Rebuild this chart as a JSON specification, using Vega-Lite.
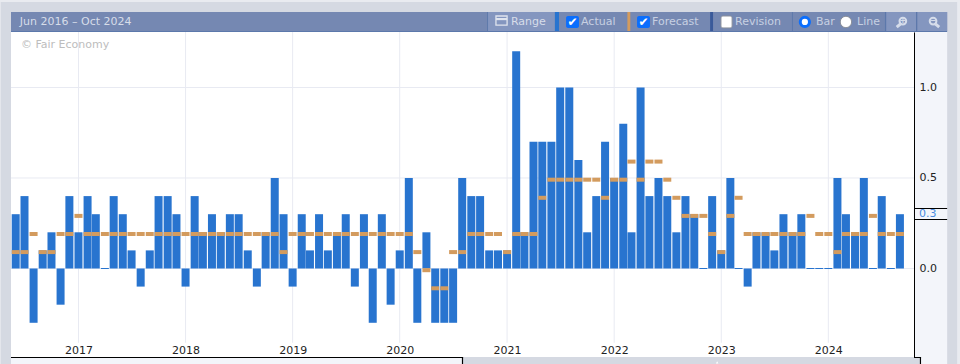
{"$schema":"https://vega.github.io/schema/vega-lite/v6.json","width":903,"height":325,"autosize":"none","padding":{"left":11,"top":32,"right":46,"bottom":7},"background":"#d5d9e2","view":{"fill":"#ffffff","stroke":null},"config":{"font":"DejaVu Sans"},
"datasets":{"series":[
{"date":"2016-06-01","actual":0.3,"forecast":0.1},{"date":"2016-07-01","actual":0.4,"forecast":0.1},{"date":"2016-08-01","actual":-0.3,"forecast":0.2},{"date":"2016-09-01","actual":0.1,"forecast":0.1},{"date":"2016-10-01","actual":0.2,"forecast":0.1},{"date":"2016-11-01","actual":-0.2,"forecast":0.2},{"date":"2016-12-01","actual":0.4,"forecast":0.2},
{"date":"2017-01-01","actual":0.2,"forecast":0.3},{"date":"2017-02-01","actual":0.4,"forecast":0.2},{"date":"2017-03-01","actual":0.3,"forecast":0.2},{"date":"2017-04-01","actual":0.0,"forecast":0.2},{"date":"2017-05-01","actual":0.4,"forecast":0.2},{"date":"2017-06-01","actual":0.3,"forecast":0.2},{"date":"2017-07-01","actual":0.1,"forecast":0.2},{"date":"2017-08-01","actual":-0.1,"forecast":0.2},{"date":"2017-09-01","actual":0.1,"forecast":0.2},{"date":"2017-10-01","actual":0.4,"forecast":0.2},{"date":"2017-11-01","actual":0.4,"forecast":0.2},{"date":"2017-12-01","actual":0.3,"forecast":0.2},
{"date":"2018-01-01","actual":-0.1,"forecast":0.2},{"date":"2018-02-01","actual":0.4,"forecast":0.2},{"date":"2018-03-01","actual":0.2,"forecast":0.2},{"date":"2018-04-01","actual":0.3,"forecast":0.2},{"date":"2018-05-01","actual":0.2,"forecast":0.2},{"date":"2018-06-01","actual":0.3,"forecast":0.2},{"date":"2018-07-01","actual":0.3,"forecast":0.2},{"date":"2018-08-01","actual":0.1,"forecast":0.2},{"date":"2018-09-01","actual":-0.1,"forecast":0.2},{"date":"2018-10-01","actual":0.2,"forecast":0.2},{"date":"2018-11-01","actual":0.5,"forecast":0.2},{"date":"2018-12-01","actual":0.3,"forecast":0.1},
{"date":"2019-01-01","actual":-0.1,"forecast":0.2},{"date":"2019-02-01","actual":0.3,"forecast":0.2},{"date":"2019-03-01","actual":0.1,"forecast":0.2},{"date":"2019-04-01","actual":0.3,"forecast":0.2},{"date":"2019-05-01","actual":0.1,"forecast":0.2},{"date":"2019-06-01","actual":0.2,"forecast":0.2},{"date":"2019-07-01","actual":0.3,"forecast":0.2},{"date":"2019-08-01","actual":-0.1,"forecast":0.2},{"date":"2019-09-01","actual":0.3,"forecast":0.2},{"date":"2019-10-01","actual":-0.3,"forecast":0.2},{"date":"2019-11-01","actual":0.3,"forecast":0.2},{"date":"2019-12-01","actual":-0.2,"forecast":0.2},
{"date":"2020-01-01","actual":0.1,"forecast":0.2},{"date":"2020-02-01","actual":0.5,"forecast":0.2},{"date":"2020-03-01","actual":-0.3,"forecast":0.1},{"date":"2020-04-01","actual":0.2,"forecast":0.0},{"date":"2020-05-01","actual":-0.3,"forecast":-0.1},{"date":"2020-06-01","actual":-0.3,"forecast":-0.1},{"date":"2020-07-01","actual":-0.3,"forecast":0.1},{"date":"2020-08-01","actual":0.5,"forecast":0.1},{"date":"2020-09-01","actual":0.4,"forecast":0.2},{"date":"2020-10-01","actual":0.4,"forecast":0.2},{"date":"2020-11-01","actual":0.1,"forecast":0.2},{"date":"2020-12-01","actual":0.1,"forecast":0.2},
{"date":"2021-01-01","actual":0.1,"forecast":0.1},{"date":"2021-02-01","actual":1.2,"forecast":0.2},{"date":"2021-03-01","actual":0.2,"forecast":0.2},{"date":"2021-04-01","actual":0.7,"forecast":0.2},{"date":"2021-05-01","actual":0.7,"forecast":0.4},{"date":"2021-06-01","actual":0.7,"forecast":0.5},{"date":"2021-07-01","actual":1.0,"forecast":0.5},{"date":"2021-08-01","actual":1.0,"forecast":0.5},{"date":"2021-09-01","actual":0.6,"forecast":0.5},{"date":"2021-10-01","actual":0.2,"forecast":0.5},{"date":"2021-11-01","actual":0.4,"forecast":0.5},{"date":"2021-12-01","actual":0.7,"forecast":0.4},
{"date":"2022-01-01","actual":0.5,"forecast":0.5},{"date":"2022-02-01","actual":0.8,"forecast":0.5},{"date":"2022-03-01","actual":0.2,"forecast":0.6},{"date":"2022-04-01","actual":1.0,"forecast":0.5},{"date":"2022-05-01","actual":0.4,"forecast":0.6},{"date":"2022-06-01","actual":0.5,"forecast":0.6},{"date":"2022-07-01","actual":0.4,"forecast":0.5},{"date":"2022-08-01","actual":0.2,"forecast":0.4},{"date":"2022-09-01","actual":0.4,"forecast":0.3},{"date":"2022-10-01","actual":0.3,"forecast":0.3},{"date":"2022-11-01","actual":0.0,"forecast":0.3},{"date":"2022-12-01","actual":0.4,"forecast":0.2},
{"date":"2023-01-01","actual":0.1,"forecast":0.1},{"date":"2023-02-01","actual":0.5,"forecast":0.3},{"date":"2023-03-01","actual":0.0,"forecast":0.4},{"date":"2023-04-01","actual":-0.1,"forecast":0.2},{"date":"2023-05-01","actual":0.2,"forecast":0.2},{"date":"2023-06-01","actual":0.2,"forecast":0.2},{"date":"2023-07-01","actual":0.1,"forecast":0.2},{"date":"2023-08-01","actual":0.3,"forecast":0.2},{"date":"2023-09-01","actual":0.2,"forecast":0.2},{"date":"2023-10-01","actual":0.3,"forecast":0.2},{"date":"2023-11-01","actual":0.0,"forecast":0.3},{"date":"2023-12-01","actual":0.0,"forecast":0.2},
{"date":"2024-01-01","actual":0.0,"forecast":0.2},{"date":"2024-02-01","actual":0.5,"forecast":0.1},{"date":"2024-03-01","actual":0.3,"forecast":0.2},{"date":"2024-04-01","actual":0.2,"forecast":0.2},{"date":"2024-05-01","actual":0.5,"forecast":0.2},{"date":"2024-06-01","actual":0.0,"forecast":0.3},{"date":"2024-07-01","actual":0.4,"forecast":0.2},{"date":"2024-08-01","actual":0.0,"forecast":0.2},{"date":"2024-09-01","actual":0.3,"forecast":0.2}
]},
"layer":[
{"data":{"values":[{"year":"2017-01-01"},{"year":"2018-01-01"},{"year":"2019-01-01"},{"year":"2020-01-01"},{"year":"2021-01-01"},{"year":"2022-01-01"},{"year":"2023-01-01"},{"year":"2024-01-01"}]},"mark":{"type":"rule","color":"#e8eaf2","strokeWidth":1},"encoding":{"x":{"field":"year","type":"temporal"}}},
{"data":{"values":[{"level":0},{"level":0.5},{"level":1}]},"mark":{"type":"rule","color":"#e8eaf2","strokeWidth":1},"encoding":{"y":{"field":"level","type":"quantitative"}}},
{"data":{"values":[{"from":"2016-05-16","to":"2024-10-19","low":-0.489,"high":-0.41}]},"mark":{"type":"rect","color":"#ffffff"},"encoding":{"x":{"field":"from","type":"temporal"},"x2":{"field":"to"},"y":{"field":"low","type":"quantitative"},"y2":{"field":"high"}}},
{"data":{"name":"series"},"mark":{"type":"bar","color":"#2874cf","size":8},"encoding":{"x":{"field":"date","type":"temporal","scale":{"type":"utc","domain":["2016-05-16","2024-10-19"],"padding":0},"axis":{"title":null,"format":"%Y","tickCount":"year","grid":false,"domain":false,"ticks":false,"labelColor":"#222222","labelFontSize":11,"labelPadding":-7,"labelBaseline":"middle","labelFlush":false,"labelOverlap":false,"zindex":1}},"y":{"field":"actual","type":"quantitative","scale":{"domain":[-0.489,1.3066],"nice":false,"zero":false},"axis":{"title":null,"orient":"right","values":[0,0.5,1],"format":".1f","grid":false,"domain":true,"domainColor":"#000000","domainWidth":1,"ticks":false,"labelColor":"#222222","labelFontSize":11,"labelPadding":5,"zindex":1}}}},
{"data":{"name":"series"},"transform":[{"filter":"datum.actual === 0"}],"mark":{"type":"tick","orient":"horizontal","color":"#2874cf","size":8,"thickness":1,"opacity":1},"encoding":{"x":{"field":"date","type":"temporal"},"y":{"field":"actual","type":"quantitative"}}},
{"data":{"name":"series"},"mark":{"type":"tick","orient":"horizontal","color":"#d39b5e","size":8,"thickness":4,"opacity":1,"yOffset":1.7},"encoding":{"x":{"field":"date","type":"temporal"},"y":{"field":"forecast","type":"quantitative"}}},
{"data":{"values":[{"from":"2016-05-16","to":"2025-02-09","low":1.312,"high":1.417}]},"mark":{"type":"rect","color":"#7588b2"},"encoding":{"x":{"field":"from","type":"temporal"},"x2":{"field":"to"},"y":{"field":"low","type":"quantitative"},"y2":{"field":"high"}}},
{"data":{"values":[{"from":"2020-10-28","to":"2021-06-13","low":1.312,"high":1.417},{"from":"2024-07-16","to":"2024-10-26","low":1.312,"high":1.417},{"from":"2024-10-30","to":"2025-02-09","low":1.312,"high":1.417}]},"mark":{"type":"rect","color":"#8496bf"},"encoding":{"x":{"field":"from","type":"temporal"},"x2":{"field":"to"},"y":{"field":"low","type":"quantitative"},"y2":{"field":"high"}}},
{"data":{"values":[{"from":"2016-05-16","to":"2025-02-09","low":1.3066,"high":1.312},{"from":"2020-10-25","to":"2020-10-28","low":1.312,"high":1.417},{"from":"2023-08-30","to":"2023-09-02","low":1.312,"high":1.417},{"from":"2024-07-12","to":"2024-07-16","low":1.312,"high":1.417},{"from":"2024-10-26","to":"2024-10-30","low":1.312,"high":1.417}]},"mark":{"type":"rect","color":"#5c78ab"},"encoding":{"x":{"field":"from","type":"temporal"},"x2":{"field":"to"},"y":{"field":"low","type":"quantitative"},"y2":{"field":"high"}}},
{"data":{"values":[{"from":"2021-06-13","to":"2021-06-27","low":1.312,"high":1.417}]},"mark":{"type":"rect","color":"#2874cf"},"encoding":{"x":{"field":"from","type":"temporal"},"x2":{"field":"to"},"y":{"field":"low","type":"quantitative"},"y2":{"field":"high"}}},
{"data":{"values":[{"from":"2022-02-15","to":"2022-02-25","low":1.312,"high":1.417}]},"mark":{"type":"rect","color":"#d39b5e"},"encoding":{"x":{"field":"from","type":"temporal"},"x2":{"field":"to"},"y":{"field":"low","type":"quantitative"},"y2":{"field":"high"}}},
{"data":{"values":[{"from":"2022-11-24","to":"2022-12-04","low":1.312,"high":1.417}]},"mark":{"type":"rect","color":"#3a5a9a"},"encoding":{"x":{"field":"from","type":"temporal"},"x2":{"field":"to"},"y":{"field":"low","type":"quantitative"},"y2":{"field":"high"}}},
{"data":{"values":[{"from":"2024-10-22","to":"2025-02-09","low":-0.489,"high":1.3066},{"from":"2024-10-17","to":"2025-02-09","low":0.2735,"high":0.3287},{"from":"2016-05-16","to":"2020-07-31","low":-0.5276,"high":-0.4945},{"from":"2024-11-12","to":"2025-02-09","low":-0.5276,"high":-0.489}]},"mark":{"type":"rect","color":"#f3f5fa"},"encoding":{"x":{"field":"from","type":"temporal"},"x2":{"field":"to"},"y":{"field":"low","type":"quantitative"},"y2":{"field":"high"}}},
{"data":{"values":[{"from":"2024-10-19","to":"2025-02-09","low":0.3287,"high":0.3343},{"from":"2024-10-19","to":"2025-02-09","low":0.268,"high":0.2735},{"from":"2016-05-16","to":"2020-08-04","low":-0.4945,"high":-0.489},{"from":"2020-07-31","to":"2020-08-04","low":-0.5276,"high":-0.489},{"from":"2024-10-19","to":"2024-11-12","low":-0.4945,"high":-0.489},{"from":"2024-11-08","to":"2024-11-12","low":-0.5276,"high":-0.489}]},"mark":{"type":"rect","color":"#000000"},"encoding":{"x":{"field":"from","type":"temporal"},"x2":{"field":"to"},"y":{"field":"low","type":"quantitative"},"y2":{"field":"high"}}},
{"data":{"values":[{"from":"2016-04-08","to":"2025-03-25","low":1.472,"high":1.4834},{"from":"2016-04-08","to":"2016-04-11","low":-0.5276,"high":1.4834},{"from":"2025-03-15","to":"2025-03-25","low":-0.5276,"high":1.4834}]},"mark":{"type":"rect","color":"#e9ebf0"},"encoding":{"x":{"field":"from","type":"temporal"},"x2":{"field":"to"},"y":{"field":"low","type":"quantitative"},"y2":{"field":"high"}}},
{"data":{"values":[{"from":"2021-07-21","to":"2021-09-03","low":1.329,"high":1.395},{"from":"2022-03-20","to":"2022-05-03","low":1.329,"high":1.395}]},"mark":{"type":"rect","color":"#0b6efd","cornerRadius":2},"encoding":{"x":{"field":"from","type":"temporal"},"x2":{"field":"to"},"y":{"field":"low","type":"quantitative"},"y2":{"field":"high"}}},
{"data":{"values":[{"from":"2022-12-31","to":"2023-02-07","low":1.329,"high":1.395}]},"mark":{"type":"rect","color":"#ffffff","stroke":"#8a8f9a","strokeWidth":1,"cornerRadius":2},"encoding":{"x":{"field":"from","type":"temporal"},"x2":{"field":"to"},"y":{"field":"low","type":"quantitative"},"y2":{"field":"high"}}},
{"data":{"values":[{"from":"2020-11-24","to":"2021-01-01","low":1.345,"high":1.395}]},"mark":{"type":"rect","fill":null,"stroke":"#dfe4ee","strokeWidth":1.3},"encoding":{"x":{"field":"from","type":"temporal"},"x2":{"field":"to"},"y":{"field":"low","type":"quantitative"},"y2":{"field":"high"}}},
{"data":{"values":[{"from":"2020-11-24","to":"2021-01-01","low":1.372,"high":1.384}]},"mark":{"type":"rect","color":"#dfe4ee"},"encoding":{"x":{"field":"from","type":"temporal"},"x2":{"field":"to"},"y":{"field":"low","type":"quantitative"},"y2":{"field":"high"}}},
{"data":{"values":[{"date":"2021-08-12","level":1.362,"label":"✔"},{"date":"2022-04-11","level":1.362,"label":"✔"}]},"mark":{"type":"text","color":"#ffffff","fontSize":12,"align":"center","baseline":"middle","font":"DejaVu Sans"},"encoding":{"x":{"field":"date","type":"temporal"},"y":{"field":"level","type":"quantitative"},"text":{"field":"label"}}},
{"data":{"values":[{"date":"2023-10-13","level":1.362}]},"mark":{"type":"point","shape":"circle","filled":true,"fill":"#ffffff","stroke":"#0b6efd","strokeWidth":3,"size":85,"opacity":1},"encoding":{"x":{"field":"date","type":"temporal"},"y":{"field":"level","type":"quantitative"}}},
{"data":{"values":[{"date":"2024-03-01","level":1.362}]},"mark":{"type":"point","shape":"circle","filled":true,"fill":"#ffffff","stroke":"#8a8f9a","strokeWidth":1,"size":130,"opacity":1},"encoding":{"x":{"field":"date","type":"temporal"},"y":{"field":"level","type":"quantitative"}}},
{"data":{"values":[{"from":"2024-09-11","to":"2024-08-21","low":1.362,"high":1.334},{"from":"2024-12-23","to":"2025-01-13","low":1.362,"high":1.334}]},"mark":{"type":"rule","color":"#d5dcea","strokeWidth":3},"encoding":{"x":{"field":"from","type":"temporal"},"x2":{"field":"to"},"y":{"field":"low","type":"quantitative"},"y2":{"field":"high"}}},
{"data":{"values":[{"date":"2024-09-11","level":1.367},{"date":"2024-12-23","level":1.367}]},"mark":{"type":"point","shape":"circle","filled":true,"fill":"#8496bf","stroke":"#d5dcea","strokeWidth":2,"size":45,"opacity":1},"encoding":{"x":{"field":"date","type":"temporal"},"y":{"field":"level","type":"quantitative"}}},
{"data":{"values":[{"date":"2024-09-11","level":1.367,"label":"+"},{"date":"2024-12-23","level":1.367,"label":"−"}]},"mark":{"type":"text","color":"#d5dcea","fontSize":8,"fontWeight":"bold","align":"center","baseline":"middle"},"encoding":{"x":{"field":"date","type":"temporal"},"y":{"field":"level","type":"quantitative"},"text":{"field":"label"}}},
{"data":{"values":[{"date":"2022-12-18","level":-0.519}]},"mark":{"type":"point","shape":"triangle-up","filled":true,"color":"#ffffff","size":6,"opacity":1},"encoding":{"x":{"field":"date","type":"temporal"},"y":{"field":"level","type":"quantitative"}}},
{"data":{"values":[{"date":"2016-06-15","level":1.362,"label":"Jun 2016 – Oct 2024"},{"date":"2021-01-14","level":1.362,"label":"Range"}]},"mark":{"type":"text","color":"#d7dde9","fontSize":11,"align":"left","baseline":"middle"},"encoding":{"x":{"field":"date","type":"temporal"},"y":{"field":"level","type":"quantitative"},"text":{"field":"label"}}},
{"data":{"values":[{"date":"2021-09-10","level":1.362,"label":"Actual"},{"date":"2022-05-10","level":1.362,"label":"Forecast"},{"date":"2023-02-17","level":1.362,"label":"Revision"},{"date":"2023-11-20","level":1.362,"label":"Bar"},{"date":"2024-04-08","level":1.362,"label":"Line"}]},"mark":{"type":"text","color":"#c7d0e2","fontSize":11,"align":"left","baseline":"middle"},"encoding":{"x":{"field":"date","type":"temporal"},"y":{"field":"level","type":"quantitative"},"text":{"field":"label"}}},
{"data":{"values":[{"date":"2016-06-19","level":1.2348,"label":"© Fair Economy"}]},"mark":{"type":"text","color":"#bdbdbd","fontSize":11,"align":"left","baseline":"middle"},"encoding":{"x":{"field":"date","type":"temporal"},"y":{"field":"level","type":"quantitative"},"text":{"field":"label"}}},
{"data":{"values":[{"date":"2024-11-05","latest":0.3,"label":"0.3"}]},"mark":{"type":"text","color":"#4a8bdf","fontSize":11,"align":"left","baseline":"middle"},"encoding":{"x":{"field":"date","type":"temporal"},"y":{"field":"latest","type":"quantitative"},"text":{"field":"label"}}}
]}
